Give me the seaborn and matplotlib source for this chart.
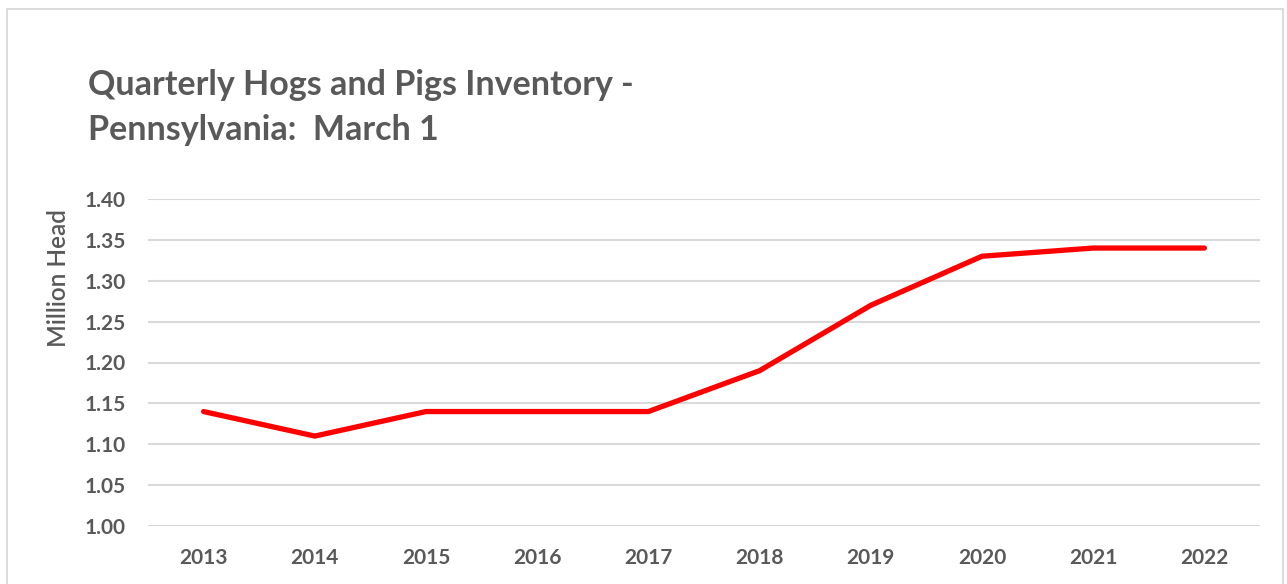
import matplotlib
matplotlib.use("Agg")
import matplotlib.pyplot as plt
import seaborn as sns
import pandas as pd
from matplotlib.patches import Rectangle

years = ["2013", "2014", "2015", "2016", "2017", "2018", "2019", "2020", "2021", "2022"]
inventory = [1.14, 1.11, 1.14, 1.14, 1.14, 1.19, 1.27, 1.33, 1.34, 1.34]
y_ticks = [1.00, 1.05, 1.10, 1.15, 1.20, 1.25, 1.30, 1.35, 1.40]

df = pd.DataFrame({"year": years, "inventory": inventory})

sns.set_style("white")
plt.rcParams["font.family"] = ["Lato", "DejaVu Sans"]

gray = "#595959"
fig = plt.figure(figsize=(12.87, 5.84), dpi=100)
ax = fig.add_axes([148 / 1287, 58 / 584, 1112 / 1287, 327 / 584])

# outer chart frame
fig.patches.append(Rectangle((7 / 1287, -0.05), 1276 / 1287, 1 - 9 / 584 + 0.05,
                             transform=fig.transFigure, fill=False,
                             edgecolor="#d4d4d4", linewidth=1.2))

sns.lineplot(data=df, x="year", y="inventory", ax=ax, color="#ff0000",
             linewidth=3.8, sort=False)

ax.set_xlim(-0.5, len(years) - 0.5)
ax.set_ylim(1.0, 1.4)
ax.set_yticks(y_ticks)
ax.set_yticklabels([f"{v:.2f}" for v in y_ticks])
ax.grid(axis="y", color="#d9d9d9", linewidth=1.5)
ax.set_axisbelow(True)
for s in ax.spines.values():
    s.set_visible(False)
ax.tick_params(axis="both", length=0, labelsize=15, labelcolor=gray)
ax.tick_params(axis="y", pad=16)
ax.tick_params(axis="x", pad=16)
for lbl in ax.get_xticklabels() + ax.get_yticklabels():
    lbl.set_fontweight("bold")
ax.set_xlabel("")
ax.set_ylabel("Million Head", fontsize=17.5, color=gray, fontweight="semibold")
ax.yaxis.set_label_coords((70 - 148) / 1112, (526 - 278) / 327)

fig.text(88 / 1287, 1 - 95 / 584, "Quarterly Hogs and Pigs Inventory -",
         fontsize=24.5, fontweight="bold", color=gray, ha="left", va="baseline")
fig.text(88 / 1287, 1 - 140 / 584, "Pennsylvania:  March 1",
         fontsize=24.5, fontweight="bold", color=gray, ha="left", va="baseline")

fig.savefig("out.png", dpi=100)
